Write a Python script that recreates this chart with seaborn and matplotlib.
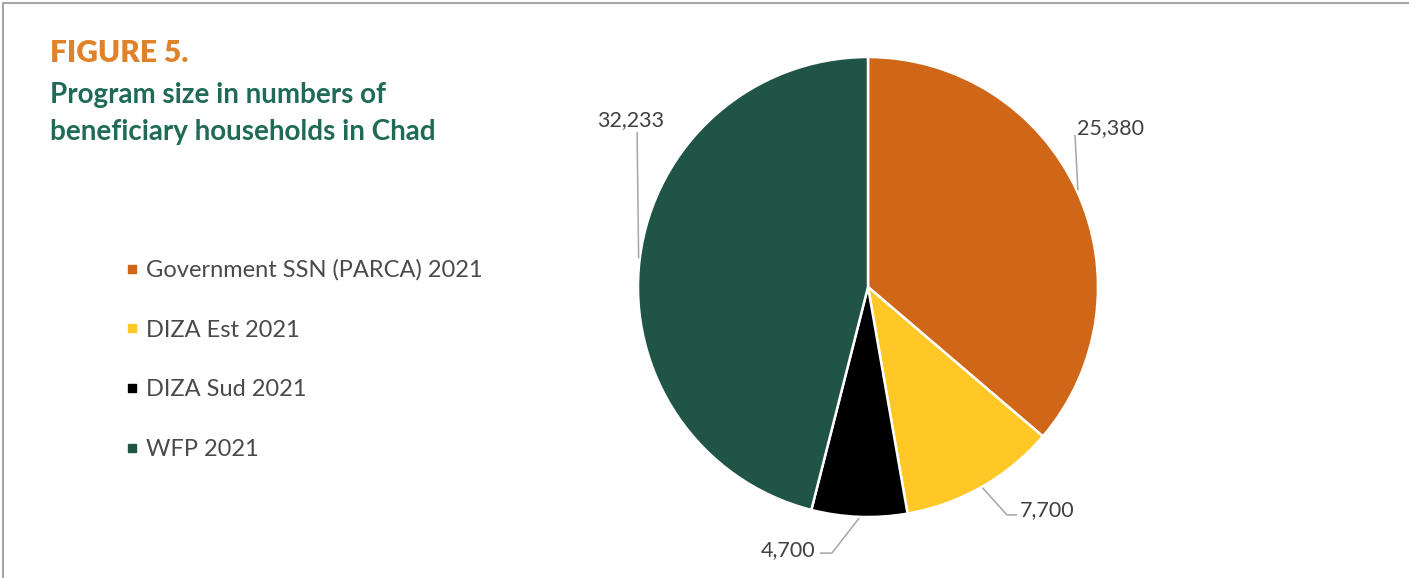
import matplotlib
matplotlib.use("Agg")
import matplotlib.pyplot as plt
import seaborn as sns
import numpy as np
from matplotlib.lines import Line2D

categories = ["Government SSN (PARCA) 2021", "DIZA Est 2021", "DIZA Sud 2021", "WFP 2021"]
values = [25380, 7700, 4700, 32233]
colors = ["#D06718", "#FFC826", "#000000", "#1F5446"]
value_labels = ["25,380", "7,700", "4,700", "32,233"]

sns.set_theme(style="white")
plt.rcParams['font.family'] = ['Lato', 'DejaVu Sans']

W, H = 1409, 578
fig = plt.figure(figsize=(W / 100, H / 100), dpi=100)
fig.patch.set_facecolor("white")

# frame lines (top, left)
fig.add_artist(Line2D([3 / W, 1], [1 - 2.5 / H, 1 - 2.5 / H], color="#A6A6A6", lw=1.5, transform=fig.transFigure))
fig.add_artist(Line2D([3 / W, 3 / W], [0, 1 - 2.5 / H], color="#A6A6A6", lw=1.5, transform=fig.transFigure))

# titles
fig.text(50 / W, 1 - 62 / H, "FIGURE 5.", color="#E0822A", fontsize=21.5, fontweight="heavy", ha="left", va="baseline")
fig.text(50 / W, 1 - 103 / H, "Program size in numbers of", color="#1F6B55", fontsize=20, fontweight="bold", ha="left", va="baseline")
fig.text(50 / W, 1 - 140 / H, "beneficiary households in Chad", color="#1F6B55", fontsize=20, fontweight="bold", ha="left", va="baseline")

# pie axes
cx, cy, R = 868, 287, 230
ax = fig.add_axes([(cx - R) / W, (H - cy - R) / H, 2 * R / W, 2 * R / H])
wedges, _ = ax.pie(values, colors=colors, startangle=90, counterclock=False, radius=1,
                   wedgeprops=dict(edgecolor="white", linewidth=1.8))
ax.set_aspect("auto")
ax.set_xlim(-1, 1)
ax.set_ylim(-1, 1)
ax.axis("off")

line_col = "#A6A6A6"
txt_col = "#404040"
# leader path offsets (elbow/end, in axes data units) and label anchors per slice
label_specs = [
    dict(path=[(0.90, 0.661)], text=(0.909, 0.691), ha="left"),
    dict(path=[(0.604, -0.991), (0.648, -0.991)], text=(0.661, -0.97), ha="left"),
    dict(path=[(-0.157, -1.157), (-0.209, -1.157)], text=(-0.23, -1.143), ha="right"),
    dict(path=[(-1.004, 0.674)], text=(-1.03, 0.726), ha="center"),
]
for w, lab, spec in zip(wedges, value_labels, label_specs):
    mid = np.deg2rad((w.theta1 + w.theta2) / 2)
    start = (1.005 * np.cos(mid), 1.005 * np.sin(mid))
    pts = [start] + spec["path"]
    xs, ys = zip(*pts)
    ax.plot(xs, ys, color=line_col, lw=1.1, clip_on=False, solid_capstyle="butt")
    ax.text(spec["text"][0], spec["text"][1], lab, ha=spec["ha"], va="center",
            fontsize=15.5, color=txt_col, clip_on=False)

# legend
handles = [Line2D([0], [0], marker="s", linestyle="none", markersize=5.5,
                  markerfacecolor=c, markeredgecolor=c) for c in colors]
leg = fig.legend(handles, categories, loc="upper left", bbox_to_anchor=(125 / W, 1 - 259.5 / H),
                 frameon=False, fontsize=17, labelspacing=1.64, handlelength=0.6,
                 handletextpad=0.3, borderpad=0, borderaxespad=0)
for t in leg.get_texts():
    t.set_color("#4A4A4A")

fig.savefig("out.png", dpi=100, facecolor="white")
